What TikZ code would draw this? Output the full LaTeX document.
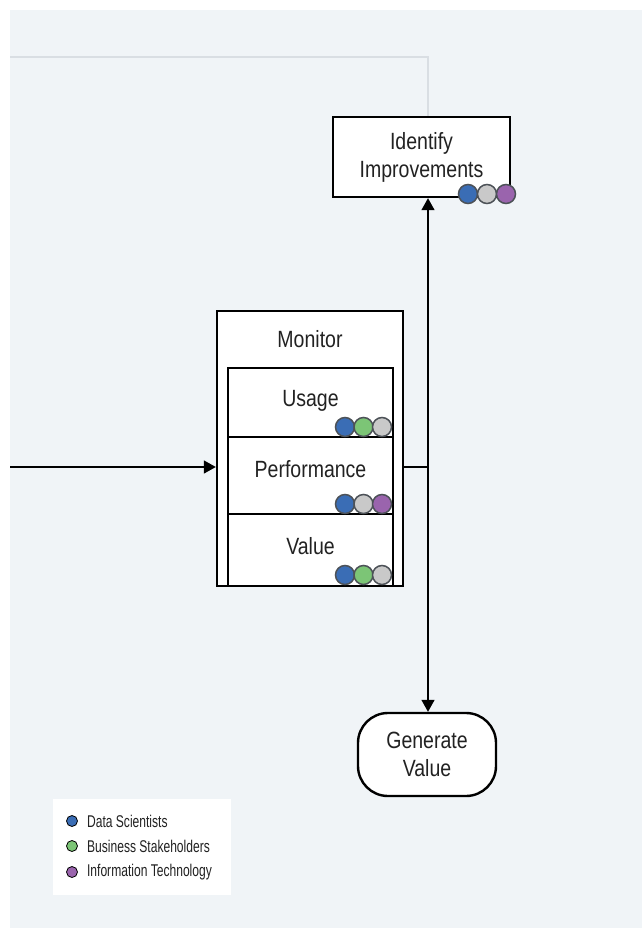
\documentclass[tikz,border=0pt]{standalone}
\usepackage{xcolor}
\usepackage{fontspec}
\setmainfont[FakeStretch=0.83]{Liberation Sans}
\newfontfamily\legendfont[FakeStretch=0.71]{Liberation Sans}
\usepackage{tikz}
\usetikzlibrary{positioning, arrows.meta}
\definecolor{panel}{HTML}{F0F4F7}
\definecolor{loopgray}{HTML}{D9DEE3}
\definecolor{ink}{HTML}{222222}
\definecolor{dotline}{HTML}{4D5258}
\definecolor{dsblue}{HTML}{3A6DB5}
\definecolor{bsgreen}{HTML}{7CC576}
\definecolor{nogray}{HTML}{C9C9C9}
\definecolor{itpurple}{HTML}{9A64AD}
\tikzstyle{stage} = [rectangle, draw=black, line width=2.4pt, fill=white, text=ink, font=\fontsize{23.5}{28}\selectfont, align=center, inner sep=0pt]
\tikzstyle{part} = [stage, line width=1.6pt, minimum width=165pt, text height=17pt, text depth=9pt]
\tikzstyle{goal} = [stage, rounded corners=30pt]
\tikzstyle{role} = [circle, draw=dotline, line width=1.5pt, minimum size=19pt, inner sep=0pt]
\tikzstyle{key} = [circle, draw=black, line width=0.8pt, minimum size=11pt, inner sep=0pt]
\tikzstyle{keytext} = [anchor=west, text=ink, inner sep=0pt, font=\legendfont\fontsize{17}{20}\selectfont]
\tikzstyle{arrow} = [line width=1.5pt, -{Triangle[length=12pt, width=13pt]}]
\tikzstyle{link} = [line width=1.5pt]

\begin{document}
\begin{tikzpicture}[x=1pt, y=-1pt]
        \useasboundingbox (0,0) rectangle (642,928);
        \fill[panel] (10,10) rectangle (642,928);
        \coordinate (loopin) at (10,57);
        \coordinate (entry) at (10,467);
        \coordinate (split) at (428,467);
        % monitor block
        \node (monitor) [stage, minimum width=186pt, minimum height=275pt] at (310,448.5) {};
        \node (monlabel) [text=ink, font=\fontsize{23.5}{28}\selectfont] at (310,339) {Monitor};
        \node (usage) [part, minimum height=69pt] at (310.5,402.5) {Usage};
        \node (perf) [part, minimum height=77pt, text depth=14pt] at (310.5,475.5) {Performance};
        \node (value) [part, minimum height=72pt] at (310.5,550) {Value};
        \node (u1) [role, fill=dsblue] at (345,427) {};
        \node (u2) [role, fill=bsgreen] at (363.5,427) {};
        \node (u3) [role, fill=nogray] at (382,427) {};
        \node (p1) [role, fill=dsblue] at (345,504) {};
        \node (p2) [role, fill=nogray] at (363.5,504) {};
        \node (p3) [role, fill=itpurple] at (382,504) {};
        \node (v1) [role, fill=dsblue] at (345,575) {};
        \node (v2) [role, fill=bsgreen] at (363.5,575) {};
        \node (v3) [role, fill=nogray] at (382,575) {};
        % next steps
        \node (ident) [stage, minimum width=177pt, minimum height=80pt] at (421.5,157) {Identify\\Improvements};
        \node (i1) [role, fill=dsblue] at (468,194) {};
        \node (i2) [role, fill=nogray] at (487,194) {};
        \node (i3) [role, fill=itpurple] at (506,194) {};
        \node (gen) [goal, minimum width=138pt, minimum height=83pt] at (427,754.5) {Generate\\Value};
        % connectors
        \draw [loopgray, line width=2pt] (loopin) -| (split |- ident.north);
        \draw [arrow] (entry) -- (entry -| monitor.west);
        \draw [link] (monitor.east |- split) -- (split);
        \draw [arrow] (split) -- (split |- ident.south);
        \draw [arrow] (split) -- (split |- gen.north);
        % legend
        \node (legend) [fill=white, minimum width=178pt, minimum height=96pt, inner sep=0pt] at (142,847) {};
        \node (k1) [key, fill=dsblue] at (72,821) {};
        \node (k2) [key, fill=bsgreen] at (72,846) {};
        \node (k3) [key, fill=itpurple] at (72,872) {};
        \node (t1) [keytext, right=9pt of k1] {Data Scientists};
        \node (t2) [keytext, right=9pt of k2] {Business Stakeholders};
        \node (t3) [keytext, right=9pt of k3] {Information Technology};
      \end{tikzpicture}
\end{document}
